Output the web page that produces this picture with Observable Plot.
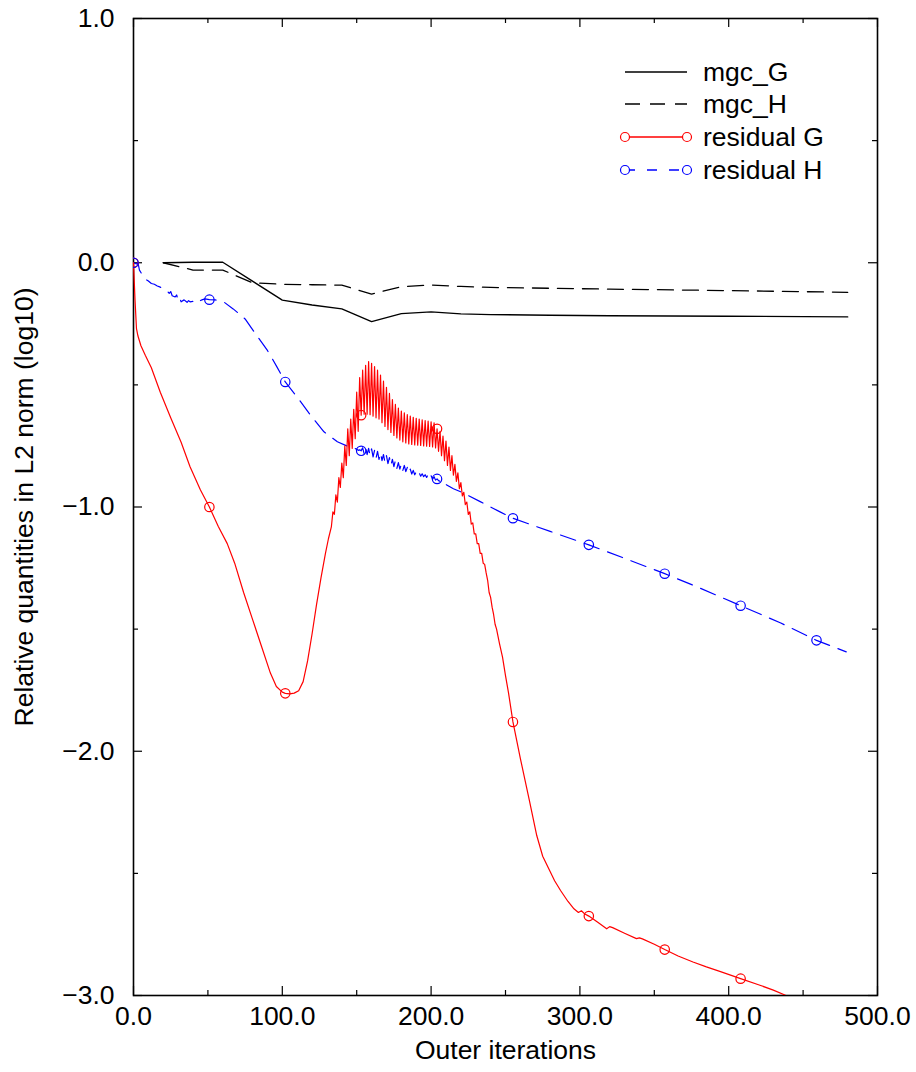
<!DOCTYPE html>
<html><head><meta charset="utf-8">
<script src="https://cdn.jsdelivr.net/npm/d3@7"></script>
<script src="https://cdn.jsdelivr.net/npm/@observablehq/plot@0.6"></script>
<style>
body{margin:0;background:#fff;}
#wrap{width:916px;height:1072px;}
</style></head><body><div id="wrap"></div>
<script>
// ---- data ----
const seriesNames = ["mgc_G", "mgc_H", "residual G", "residual H"];
const seriesColors = ["#000000", "#000000", "#ff0000", "#0000ff"];
const xLabels = [0, 100, 200, 300, 400, 500];
const yLabels = [1, 0, -1, -2, -3];
const markerIters = [0, 51, 102, 153, 204, 255, 306, 357, 408, 459];

const mgcG = [[20,0],[40,0.002],[60,0.002],[100,-0.153],[120,-0.173],[140,-0.189],[160,-0.241],[180,-0.208],[200,-0.201],[220,-0.209],[240,-0.212],[280,-0.215],[320,-0.217],[400,-0.219],[480,-0.222]];
const mgcH = [[20,0],[40,-0.03],[60,-0.03],[80,-0.082],[100,-0.088],[120,-0.09],[140,-0.092],[160,-0.128],[180,-0.098],[200,-0.091],[220,-0.097],[240,-0.101],[320,-0.108],[400,-0.114],[480,-0.121]];

const residualG = [
[0,0],[1,-0.15],[2,-0.27],[3,-0.30],[5,-0.34],[8,-0.38],[12,-0.43],[18,-0.53],[25,-0.635],[32,-0.735],[38,-0.835],[45,-0.93],[51,-1.0],[57,-1.08],[63,-1.15],[68,-1.23],[74,-1.35],[80,-1.46],[86,-1.57],[92,-1.68],[96,-1.735],[100,-1.758],[102,-1.763],[105,-1.765],[108,-1.762],[111,-1.752],[114,-1.715],[117,-1.63],[120,-1.52],[123,-1.40],[126,-1.29],[129,-1.19],[131,-1.13],
[133,-1.08],[134,-1.02],[135,-1.03],[136,-0.95],[137,-0.98],[138,-0.88],[139,-0.92],[140,-0.82],[141,-0.88],[142,-0.75],[143,-0.83],[144,-0.68],[145,-0.79],[146,-0.64],[147,-0.76],[148,-0.60],[149,-0.72],[150,-0.53],[151,-0.69],[152,-0.47],[153,-0.624],[154,-0.44],[155,-0.62],[156,-0.42],[157,-0.62],[158,-0.405],[159,-0.622],[160,-0.412],[161,-0.628],[162,-0.425],[163,-0.635],[164,-0.44],[165,-0.64],[166,-0.46],[167,-0.655],[168,-0.485],[169,-0.67],[170,-0.51],[171,-0.683],[172,-0.535],[173,-0.695],[174,-0.56],[175,-0.707],[176,-0.58],[177,-0.717],[178,-0.595],[179,-0.726],[180,-0.607],[181,-0.733],[182,-0.615],[183,-0.738],[184,-0.622],[185,-0.742],[186,-0.628],[187,-0.744],[188,-0.633],[189,-0.746],[190,-0.637],[191,-0.747],[192,-0.64],[193,-0.748],[194,-0.643],[195,-0.75],[196,-0.646],[197,-0.751],[198,-0.648],[199,-0.752],[200,-0.651],[201,-0.754],[202,-0.655],[203,-0.758],[204,-0.68],[205,-0.772],[206,-0.69],[207,-0.79],[208,-0.71],[209,-0.81],[210,-0.73],[211,-0.83],[212,-0.755],[213,-0.85],[214,-0.79],[215,-0.87],[216,-0.825],[217,-0.895],[218,-0.86],[219,-0.925],[220,-0.9],[221,-0.955],[222,-0.94],[223,-0.99],[224,-0.98],[225,-1.03],[226,-1.02],[227,-1.07],[228,-1.065],[229,-1.11],[230,-1.11],[231,-1.15],[232,-1.15],[233,-1.19],[234,-1.19],[235,-1.23],[236,-1.235],[237,-1.27],[238,-1.30],[239,-1.35],[240,-1.37],[241,-1.41],[242,-1.44],[243,-1.48],[244,-1.50],
[246,-1.56],[248,-1.615],[250,-1.69],[252,-1.76],[255,-1.88],[260,-2.03],[266,-2.2],[271,-2.345],[275,-2.43],[279,-2.48],[283,-2.53],[287,-2.57],[292,-2.615],[296,-2.645],[299,-2.66],[301,-2.653],[303,-2.665],[306,-2.675],[312,-2.70],[318,-2.727],[320,-2.718],[322,-2.722],[330,-2.745],[338,-2.767],[340,-2.764],[342,-2.768],[350,-2.79],[357,-2.812],[366,-2.838],[376,-2.863],[385,-2.883],[394,-2.901],[408,-2.931],[421,-2.958],[430,-2.978],[437,-2.996],[450,-3.035],[465,-3.07],[480,-3.11]
];

const residualH = [
[0,0],[2,-0.005],[3,0.0],[4,-0.03],[6,-0.05],[8,-0.067],[10,-0.075],[12,-0.085],[14,-0.088],[16,-0.095],[18,-0.10],[20,-0.107],[22,-0.112],[24,-0.125],[25,-0.118],[26,-0.135],[28,-0.14],[29,-0.132],[30,-0.155],[31,-0.145],[32,-0.16],[34,-0.152],[36,-0.162],[37,-0.155],[38,-0.16],[40,-0.158],[42,-0.15],[44,-0.158],[46,-0.152],[48,-0.148],[51,-0.151],[55,-0.152],[61,-0.162],[67,-0.189],[75,-0.23],[82,-0.291],[90,-0.359],[96,-0.422],[102,-0.488],[110,-0.55],[119,-0.624],[128,-0.692],[137,-0.733],[145,-0.754],
[150,-0.763],[151,-0.768],[152,-0.766],[153,-0.77],[154,-0.758],[155,-0.782],[156,-0.756],[157,-0.786],[158,-0.76],[159,-0.79],[160,-0.762],[161,-0.795],[162,-0.768],[163,-0.80],[164,-0.772],[165,-0.805],[166,-0.778],[167,-0.81],[168,-0.785],[169,-0.818],[170,-0.79],[171,-0.822],[172,-0.798],[173,-0.83],[174,-0.805],[175,-0.835],[176,-0.81],[177,-0.842],[178,-0.818],[179,-0.845],[180,-0.824],[181,-0.85],[182,-0.83],[183,-0.855],[184,-0.838],[185,-0.86],[186,-0.845],[187,-0.865],[188,-0.85],[189,-0.868],[190,-0.856],[191,-0.87],[192,-0.86],[193,-0.874],[194,-0.864],[195,-0.876],[196,-0.868],[197,-0.879],[198,-0.866],[199,-0.882],[200,-0.872],[201,-0.886],[202,-0.876],[203,-0.89],[204,-0.885],[205,-0.892],[206,-0.895],[207,-0.905],[208,-0.902],[209,-0.91],[210,-0.908],[212,-0.915],[215,-0.925],
[220,-0.938],[233,-0.978],[246,-1.019],[255,-1.046],[280,-1.10],[306,-1.155],[330,-1.21],[357,-1.273],[380,-1.33],[408,-1.404],[435,-1.475],[459,-1.546],[479,-1.593]
];

// ---- build ----
const FONT = "'Liberation Sans', Arial, Helvetica, sans-serif";
const FS = 26.5;
const W = 916, H = 1072, ML = 133, MR = 39, MT = 18, MB = 77;
const PW = W - ML - MR, PH = H - MT - MB;
const majorX = d3.range(0, 501, 100), minorX = d3.range(50, 500, 100);
const majorY = d3.range(-3, 1.01, 1), minorY = d3.range(-2.5, 1, 1);
const dash = "16,9";
const isMarker = d => markerIters.includes(d[0]);

const fmtNum = d => (d < 0 ? "\u2212" : "") + Math.abs(d).toFixed(1);

const chart = Plot.plot({
  width: W, height: H,
  marginLeft: ML, marginRight: MR, marginTop: MT, marginBottom: MB,
  style: {fontFamily: FONT, background: "#fff", color: "#000"},
  x: {domain: [0, 500]},
  y: {domain: [-3, 1]},
  marks: [
    Plot.frame({stroke: "#000", strokeWidth: 1.6}),
    // inward ticks on all four sides
    Plot.tickX(majorX, {x: d => d, insetTop: PH - 9, stroke: "#000", strokeWidth: 1.2}),
    Plot.tickX(minorX, {x: d => d, insetTop: PH - 5, stroke: "#000", strokeWidth: 1.2}),
    Plot.tickX(majorX, {x: d => d, insetBottom: PH - 9, stroke: "#000", strokeWidth: 1.2}),
    Plot.tickX(minorX, {x: d => d, insetBottom: PH - 5, stroke: "#000", strokeWidth: 1.2}),
    Plot.tickY(majorY, {y: d => d, insetRight: PW - 9, stroke: "#000", strokeWidth: 1.2}),
    Plot.tickY(minorY, {y: d => d, insetRight: PW - 5, stroke: "#000", strokeWidth: 1.2}),
    Plot.tickY(majorY, {y: d => d, insetLeft: PW - 9, stroke: "#000", strokeWidth: 1.2}),
    Plot.tickY(minorY, {y: d => d, insetLeft: PW - 5, stroke: "#000", strokeWidth: 1.2}),
    Plot.axisX({ticks: xLabels, tickSize: 0, tickPadding: 11, tickFormat: fmtNum, fontSize: FS, label: null}),
    Plot.axisY({ticks: yLabels, tickSize: 0, tickPadding: 19, tickFormat: fmtNum, fontSize: FS, label: null}),
    Plot.text(["Outer iterations"], {frameAnchor: "bottom", dy: 63, text: d => d, fontSize: FS, fill: "#000", textAnchor: "middle"}),
    Plot.text(["Relative quantities in L2 norm (log10)"], {frameAnchor: "left", dx: -108.5, rotate: -90, text: d => d, fontSize: FS, fill: "#000", textAnchor: "middle"}),
    // series
    Plot.line(mgcG, {x: d => d[0], y: d => d[1], stroke: seriesColors[0], strokeWidth: 1.3, clip: true}),
    Plot.line(mgcH, {x: d => d[0], y: d => d[1], stroke: seriesColors[1], strokeWidth: 1.3, strokeDasharray: dash, clip: true}),
    Plot.line(residualH, {x: d => d[0], y: d => d[1], stroke: seriesColors[3], strokeWidth: 1.2, strokeDasharray: dash, clip: true}),
    Plot.line(residualG, {x: d => d[0], y: d => d[1], stroke: seriesColors[2], strokeWidth: 1.2, clip: true}),
    Plot.dot(residualG.filter(isMarker), {x: d => d[0], y: d => d[1], r: 4.7, stroke: seriesColors[2], strokeWidth: 1.2, fill: "none", clip: true}),
    Plot.dot(residualH.filter(isMarker), {x: d => d[0], y: d => d[1], r: 4.7, stroke: seriesColors[3], strokeWidth: 1.2, fill: "none", clip: true})
  ]
});

// ---- legend (inside the plot, top right) ----
const svg = d3.select(chart);
const lg = svg.append("g").attr("font-family", FONT).attr("font-size", FS).attr("text-anchor", "start");
const rowY = [72, 104, 137, 170];
const lx0 = 625, lx1 = 687, tx = 703;
const legendDash = ["none", "15,10", "none", "10,12"];
const legendMarker = [false, false, true, true];
seriesNames.forEach((name, i) => {
  const y = rowY[i];
  lg.append("line").attr("x1", lx0).attr("x2", lx1).attr("y1", y).attr("y2", y)
    .attr("stroke", seriesColors[i]).attr("stroke-width", 1.3)
    .attr("stroke-dasharray", legendDash[i]);
  if (legendMarker[i]) {
    [lx0, lx1].forEach(cx => lg.append("circle").attr("cx", cx).attr("cy", y).attr("r", 4.5)
      .attr("fill", "#fff").attr("stroke", seriesColors[i]).attr("stroke-width", 1.2));
  }
  lg.append("text").attr("x", tx).attr("y", y + 9).attr("text-anchor", "start").attr("fill", "#000").text(name);
});

document.getElementById("wrap").appendChild(chart);
</script>
</body></html>
